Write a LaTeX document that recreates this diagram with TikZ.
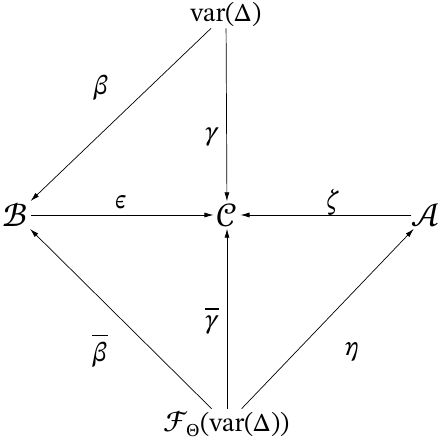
\documentclass[tikz,border=0pt]{standalone}
\usepackage{unicode-math}
\usepackage{graphicx}
\setmainfont{STIX Two Text}
\setmathfont{STIX Two Math}
\usetikzlibrary{arrows.meta}
\newcommand{\bcal}[1]{\scalebox{1.3}{$\mathcal{#1}$}}
\newcommand{\fcal}[1]{\scalebox{1.15}{$\mathcal{#1}$}}
\begin{document}
\begin{tikzpicture}[x=1pt,y=-1pt,
  obj/.style={inner sep=2pt,font=\fontsize{26}{30}\selectfont},
  lab/.style={font=\fontsize{27}{31}\selectfont},
  arr/.style={-{Latex[length=9pt,width=5pt]},line width=0.7pt}]
\useasboundingbox (0,0) rectangle (442,443);
\node[obj] (V) at (226,14) {$\mathrm{var}(\Delta)$};
\node[obj] (B) at (16,215) {\bcal{B}};
\node[obj] (C) at (227,215) {\bcal{C}};
\node[obj] (A) at (427,215) {\bcal{A}};
\node[obj] (F) at (227,424) {\fcal{F}\kern-1pt$_{\Theta}(\mathrm{var}(\Delta))$};
\draw[arr] (V) -- (B);
\draw[arr] (V) -- (C);
\draw[arr] (B) -- (C);
\draw[arr] (A) -- (C);
\draw[arr] (F) -- (B);
\draw[arr] (F) -- (C);
\draw[arr] (F) -- (A);
\node[lab] (lb) at (101,88) {$\beta$};
\node[lab] (lg) at (212,137) {$\gamma$};
\node[lab] (le) at (121,202) {$\epsilon$};
\node[lab] (lz) at (333,202) {$\zeta$};
\node[lab] (lbb) at (100,350) {$\overline{\beta}$};
\node[lab] (lgb) at (212,320) {$\overline{\gamma}$};
\node[lab] (le2) at (352,352) {$\eta$};
\end{tikzpicture}
\end{document}
